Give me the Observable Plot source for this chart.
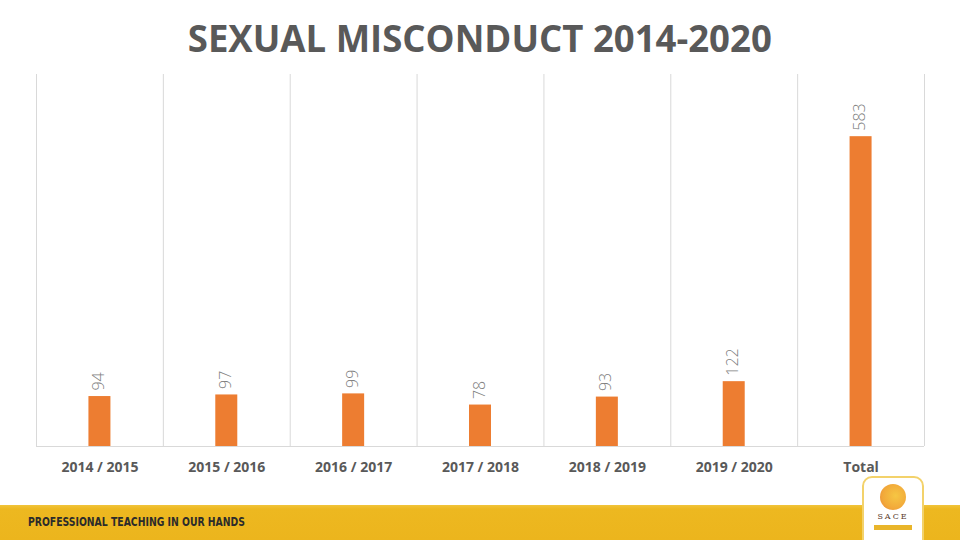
<!DOCTYPE html>
<html>
<head>
<meta charset="utf-8">
<script src="https://cdn.jsdelivr.net/npm/d3@7"></script>
<script src="https://cdn.jsdelivr.net/npm/@observablehq/plot@0.6"></script>
<style>
  html, body { margin: 0; padding: 0; background: #fff; width: 960px; height: 540px; overflow: hidden; }
  #wrap { position: relative; width: 960px; height: 540px; }
  #title { position: absolute; left: 0; top: 13px; width: 960px; text-align: center; height: 50px; }
  #title span { display: inline-block; font-family: "Open Sans", sans-serif; font-weight: 700; font-size: 37px; color: #595959; line-height: 50px; transform-origin: center center; white-space: nowrap; }
  #chart { position: absolute; left: 0; top: 70px; }
  #banner { position: absolute; left: 0; top: 505px; width: 960px; height: 35px;
    background: linear-gradient(180deg, #f1c43a 0px, #edb820 4px, #ecb51d 100%); }
  #banner span { position: absolute; left: 28px; top: 9px; font-family: "DejaVu Sans Condensed", "DejaVu Sans", sans-serif; font-weight: 700; font-size: 13px; color: #2b2b2b; white-space: nowrap; transform-origin: left center; }
  #logo { position: absolute; left: 862px; top: 476px; width: 58px; height: 72px; background: #fff; border: 2px solid #f3d26b; border-radius: 10px; }
  #logo .sun { position: absolute; left: 16px; top: 6px; width: 26px; height: 26px; border-radius: 50%; background: radial-gradient(circle at 60% 45%, #f6c643 0, #f2a93a 60%, #e8843a 100%); }
  #logo .txt { position: absolute; left: 0; top: 34px; width: 58px; text-align: center; font-family: "DejaVu Serif", serif; font-size: 8px; letter-spacing: 2px; color: #5a3a2a; }
  #logo .strip { position: absolute; left: 10px; top: 47px; width: 38px; height: 5px; background: #e9b52a; }
</style>
</head>
<body>
<div id="wrap">
  <div id="title"><span>SEXUAL MISCONDUCT 2014-2020</span></div>
  <div id="chart"></div>
  <div id="banner"><span>PROFESSIONAL TEACHING IN OUR HANDS</span></div>
  <div id="logo"><div class="sun"></div><div class="txt">SACE</div><div class="strip"></div></div>
</div>
<script>
const categories = ["2014 / 2015", "2015 / 2016", "2016 / 2017", "2017 / 2018", "2018 / 2019", "2019 / 2020", "Total"];
const values = [94, 97, 99, 78, 93, 122, 583];
const yMax = 700;

const data = categories.map((c, i) => ({category: c, value: values[i]}));

const width = 960, marginLeft = 36, marginRight = 36;
const bandW = (width - marginLeft - marginRight) / categories.length;
const barW = 22;
const inset = (bandW - barW) / 2;

const chart = Plot.plot({
  width,
  height: 410,
  marginLeft,
  marginRight,
  marginTop: 4,
  marginBottom: 34,
  style: {background: "transparent", overflow: "visible"},
  x: {domain: categories, padding: 0, round: false, label: null},
  y: {domain: [0, yMax], axis: null},
  marks: [
    Plot.ruleX(categories, {x: d => d, dx: -bandW / 2, stroke: "#d9d9d9", strokeWidth: 1}),
    Plot.ruleX([categories[categories.length - 1]], {x: d => d, dx: bandW / 2, stroke: "#d9d9d9", strokeWidth: 1}),
    Plot.barY(data, {x: "category", y: "value", fill: "#ed7d31", insetLeft: inset, insetRight: inset}),
    Plot.ruleY([0], {stroke: "#d9d9d9", strokeWidth: 1}),
    Plot.text(data, {x: "category", y: "value", text: d => String(d.value), rotate: -90, textAnchor: "start", dy: -6, dx: -1,
      fill: "#808080", fontSize: 16, fontFamily: "Open Sans", fontWeight: 300}),
    Plot.axisX({tickSize: 0, tickPadding: 16, fontSize: 14, fontWeight: "bold", fontFamily: "Open Sans", color: "#595959", label: null})
  ]
});
document.getElementById("chart").appendChild(chart);

function fit(el, target) {
  const w = el.getBoundingClientRect().width;
  if (w > 0) el.style.transform = `scaleX(${target / w})`;
}
fit(document.querySelector("#title span"), 584);
fit(document.querySelector("#banner span"), 217);
</script>
</body>
</html>
